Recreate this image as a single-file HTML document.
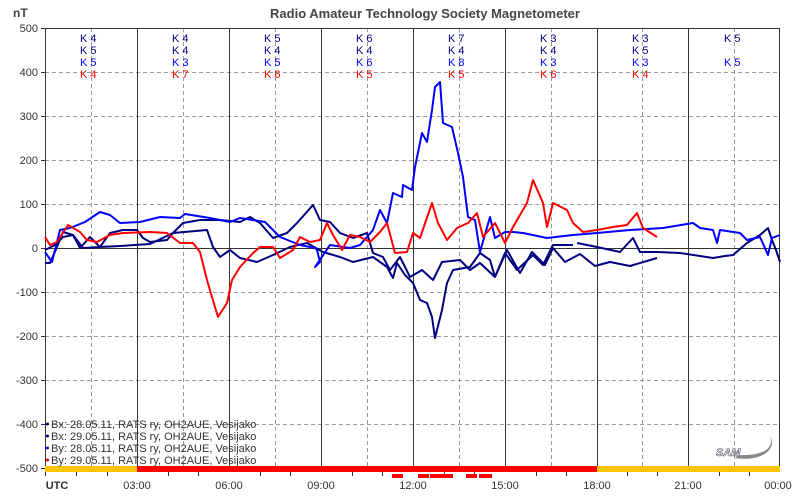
<!DOCTYPE html>
<html><head><meta charset="utf-8"><style>
body{margin:0;background:#fff;}
svg{display:block;font-family:"Liberation Sans",sans-serif;}
</style></head><body>
<svg width="800" height="500" viewBox="0 0 800 500" xmlns="http://www.w3.org/2000/svg">
<rect width="800" height="500" fill="#fff"/>
<text x="425" y="18" font-size="13" font-weight="bold" fill="#444" text-anchor="middle">Radio Amateur Technology Society Magnetometer</text>
<text x="13" y="17" font-size="12" font-weight="bold" fill="#444">nT</text>
<g stroke="#999" stroke-dasharray="4,3" stroke-width="1">
<line x1="45" y1="72.5" x2="780" y2="72.5"/><line x1="45" y1="116.5" x2="780" y2="116.5"/><line x1="45" y1="160.5" x2="780" y2="160.5"/><line x1="45" y1="204.5" x2="780" y2="204.5"/><line x1="45" y1="292.5" x2="780" y2="292.5"/><line x1="45" y1="336.5" x2="780" y2="336.5"/><line x1="45" y1="380.5" x2="780" y2="380.5"/><line x1="45" y1="424.5" x2="780" y2="424.5"/>
<line x1="91.5" y1="28" x2="91.5" y2="468"/><line x1="183.5" y1="28" x2="183.5" y2="468"/><line x1="275.5" y1="28" x2="275.5" y2="468"/><line x1="367.5" y1="28" x2="367.5" y2="468"/><line x1="459.5" y1="28" x2="459.5" y2="468"/><line x1="551.5" y1="28" x2="551.5" y2="468"/><line x1="642.5" y1="28" x2="642.5" y2="468"/><line x1="734.5" y1="28" x2="734.5" y2="468"/>
</g>
<g stroke="#333" stroke-width="1">
<line x1="137.5" y1="28" x2="137.5" y2="468"/><line x1="229.5" y1="28" x2="229.5" y2="468"/><line x1="321.5" y1="28" x2="321.5" y2="468"/><line x1="413.5" y1="28" x2="413.5" y2="468"/><line x1="505.5" y1="28" x2="505.5" y2="468"/><line x1="597.5" y1="28" x2="597.5" y2="468"/><line x1="688.5" y1="28" x2="688.5" y2="468"/>
<line x1="45" y1="248.5" x2="780" y2="248.5"/>
<polyline points="45,28.5 779.5,28.5 779.5,472" fill="none"/>
<line x1="45.5" y1="28" x2="45.5" y2="476"/>
</g>
<g stroke="#333"><line x1="41" y1="28.5" x2="45" y2="28.5"/><line x1="41" y1="72.5" x2="45" y2="72.5"/><line x1="41" y1="116.5" x2="45" y2="116.5"/><line x1="41" y1="160.5" x2="45" y2="160.5"/><line x1="41" y1="204.5" x2="45" y2="204.5"/><line x1="41" y1="248.5" x2="45" y2="248.5"/><line x1="41" y1="292.5" x2="45" y2="292.5"/><line x1="41" y1="336.5" x2="45" y2="336.5"/><line x1="41" y1="380.5" x2="45" y2="380.5"/><line x1="41" y1="424.5" x2="45" y2="424.5"/><line x1="41" y1="468.5" x2="45" y2="468.5"/>
<line x1="76.5" y1="472" x2="76.5" y2="476"/><line x1="107.5" y1="472" x2="107.5" y2="476"/><line x1="168.5" y1="472" x2="168.5" y2="476"/><line x1="198.5" y1="472" x2="198.5" y2="476"/><line x1="260.5" y1="472" x2="260.5" y2="476"/><line x1="290.5" y1="472" x2="290.5" y2="476"/><line x1="352.5" y1="472" x2="352.5" y2="476"/><line x1="382.5" y1="472" x2="382.5" y2="476"/><line x1="444.5" y1="472" x2="444.5" y2="476"/><line x1="474.5" y1="472" x2="474.5" y2="476"/><line x1="536.5" y1="472" x2="536.5" y2="476"/><line x1="566.5" y1="472" x2="566.5" y2="476"/><line x1="627.5" y1="472" x2="627.5" y2="476"/><line x1="657.5" y1="472" x2="657.5" y2="476"/><line x1="719.5" y1="472" x2="719.5" y2="476"/><line x1="749.5" y1="472" x2="749.5" y2="476"/>
</g>
<g font-size="11" fill="#333" text-anchor="end">
<text x="38" y="32">500</text><text x="38" y="76">400</text><text x="38" y="120">300</text><text x="38" y="164">200</text><text x="38" y="208">100</text><text x="38" y="252">0</text><text x="38" y="296">-100</text><text x="38" y="340">-200</text><text x="38" y="384">-300</text><text x="38" y="428">-400</text><text x="38" y="472">-500</text>
</g>
<g font-size="11" fill="#333" text-anchor="middle">
<text x="57" y="489" font-weight="bold">UTC</text><text x="137" y="489">03:00</text><text x="229" y="489">06:00</text><text x="321" y="489">09:00</text><text x="413" y="489">12:00</text><text x="505" y="489">15:00</text><text x="597" y="489">18:00</text><text x="688" y="489">21:00</text><text x="778" y="489">00:00</text>
</g>
<rect x="45" y="466" width="92" height="6" fill="#f8c400"/>
<rect x="137" y="466" width="460" height="6" fill="#f00"/>
<rect x="597" y="466" width="183" height="6" fill="#f8c400"/>
<g fill="#f00"><rect x="392" y="474" width="11" height="4"/><rect x="418" y="474" width="11" height="4"/><rect x="430" y="474" width="23" height="4"/><rect x="466" y="474" width="11" height="4"/><rect x="479" y="474" width="13" height="4"/></g>
<g font-size="11" text-anchor="start">
<g fill="#000080">
<text x="80" y="42">K 4</text><text x="172" y="42">K 4</text><text x="264" y="42">K 5</text><text x="356" y="42">K 6</text><text x="448" y="42">K 7</text><text x="540" y="42">K 3</text><text x="632" y="42">K 3</text><text x="724" y="42">K 5</text>
<text x="80" y="54">K 5</text><text x="172" y="54">K 4</text><text x="264" y="54">K 4</text><text x="356" y="54">K 4</text><text x="448" y="54">K 4</text><text x="540" y="54">K 4</text><text x="632" y="54">K 5</text>
</g>
<g fill="#0000ff">
<text x="80" y="66">K 5</text><text x="172" y="66">K 3</text><text x="264" y="66">K 5</text><text x="356" y="66">K 6</text><text x="448" y="66">K 8</text><text x="540" y="66">K 3</text><text x="632" y="66">K 3</text><text x="724" y="66">K 5</text>
</g>
<g fill="#ff0000">
<text x="80" y="78">K 4</text><text x="172" y="78">K 7</text><text x="264" y="78">K 6</text><text x="356" y="78">K 5</text><text x="448" y="78">K 5</text><text x="540" y="78">K 6</text><text x="632" y="78">K 4</text>
</g>
</g>
<g fill="none" stroke-width="2" stroke-linejoin="round">
<polyline stroke="#000080" points="45,250 55,245 63,237 73,235 80,248 90,237 100,247 110,233 123,230 137,230 143,238 150,242 167,240 173,233 183,223 200,220 220,220 240,222 250,217 260,223 273,238 287,233 297,223 313,205 320,220 330,222 340,233 353,238 367,233 373,253 383,257 390,270 400,257 410,277 422,270 433,280 442,262 460,260 470,270 480,263 495,277 507,250 520,273 532,252 545,265 553,248 565,262 580,254 595,266 610,262 630,266 657,258"/>
<polyline stroke="#000080" points="45,263 50,263 57,247 63,232 73,235 83,248 100,247 120,246 150,244 173,233 207,230 213,247 220,257 230,250 240,258 257,262 273,255 290,247 307,243 323,252 340,257 353,262 373,257 387,267 393,278 397,263 405,275 413,283 420,300 427,303 432,317 435,338 437,330 442,310 447,283 453,270 470,267 480,253 490,260 495,277 505,253 517,270 533,255 543,265 553,245 573,245"/>
<polyline stroke="#000080" points="577,243 597,247 620,252 633,238 640,252 657,252 680,253 700,256 713,258 725,256 733,255 747,243 760,235 768,228 772,240 776,250 780,262"/>
<polyline stroke="#0000ff" points="45,252 52,262 60,230 70,228 85,222 100,212 110,215 120,223 140,222 160,217 180,218 185,214 210,218 230,222 240,218 265,222 280,237 300,245 315,248 317,250 320,262 315,267 330,245 350,248 360,245 373,230 380,210 387,223 393,193 402,197 403,185 412,190 415,167 422,133 427,142 432,110 435,87 440,82 443,123 452,127 458,153 463,177 468,217 475,220 480,252 490,217 495,238 505,232 513,232 523,233 547,238 573,235 597,233 630,230 663,228 693,223 700,228 713,230 717,243 720,230 740,233 747,240 760,237 768,255 772,238 780,235"/>
<polyline stroke="#ff0000" points="45,237 50,245 57,242 68,225 80,232 87,240 97,242 110,235 123,233 150,232 167,233 180,243 193,243 200,252 207,280 212,297 218,317 227,303 232,280 240,267 253,253 260,247 273,247 280,258 293,250 300,237 310,242 320,240 327,223 333,235 342,250 350,235 360,237 370,242 380,232 387,223 395,253 407,252 413,233 420,238 432,203 438,223 447,240 457,228 468,223 477,213 483,237 495,223 505,243 513,227 527,203 533,180 543,203 547,227 553,203 567,210 573,223 583,232 597,230 613,227 627,225 637,213 643,228 657,237"/>
</g>
<g font-size="11" fill="#333">
<circle cx="47.5" cy="424" r="1.5" fill="#000080"/><text x="51" y="428">Bx: 28.05.11, RATS ry, OH2AUE, Vesijako</text>
<circle cx="47.5" cy="436" r="1.5" fill="#000080"/><text x="51" y="440">Bx: 29.05.11, RATS ry, OH2AUE, Vesijako</text>
<circle cx="47.5" cy="448" r="1.5" fill="#0000ff"/><text x="51" y="452">By: 28.05.11, RATS ry, OH2AUE, Vesijako</text>
<circle cx="47.5" cy="460" r="1.5" fill="#ff0000"/><text x="51" y="464">By: 29.05.11, RATS ry, OH2AUE, Vesijako</text>
</g>
<g>
<path d="M735,458 C760,462 778,450 770,436 C775,450 760,456 738,455 Z" fill="#888"/>
<text x="716" y="456" font-size="11" font-style="italic" font-weight="bold" fill="#fff" stroke="#556" stroke-width="0.6">SAM</text>
</g>
</svg>
</body></html>
